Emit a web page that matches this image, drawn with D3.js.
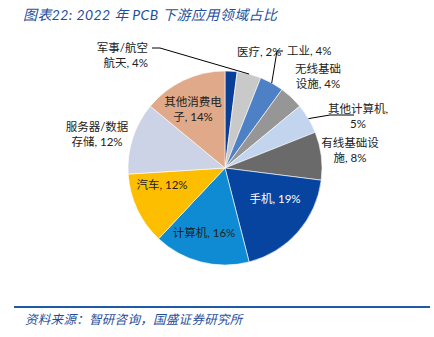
<!DOCTYPE html>
<html><head><meta charset="utf-8">
<script src="https://cdn.jsdelivr.net/npm/d3@7"></script>
<style>
html,body{margin:0;padding:0;background:#fff;}
svg{display:block;}
</style>
</head><body>
<svg id="c" width="434" height="337"></svg>
<script>
// ---- data ----
const categories = ["医疗","军事/航空航天","工业","无线基础设施","其他计算机","有线基础设施","手机","计算机","汽车","服务器/数据存储","其他消费电子"];
const shares = [2,4,4,4,5,8,19,16,12,12,14];
const labelLines = [
  ["医疗, 2%"],
  ["军事/航空","航天, 4%"],
  ["工业, 4%"],
  ["无线基础","设施, 4%"],
  ["其他计算机,","5%"],
  ["有线基础设","施, 8%"],
  ["手机, 19%"],
  ["计算机, 16%"],
  ["汽车, 12%"],
  ["服务器/数据","存储, 12%"],
  ["其他消费电","子, 14%"]
];
const colors = ["#0a3f98","#c9c9c9","#4e80c6","#969696","#c3d5ee","#6a6a6a","#0744a0","#0f8bd3","#fdbe00","#cdd3e6","#dfa98a"];
const titleText = "图表22:  2022 年 PCB 下游应用领域占比";
const sourceText = "资料来源：智研咨询，国盛证券研究所";

// ---- layout ----
const W = 434, H = 337;
const cx = 225, cy = 168, R = 97;
const svg = d3.select("#c");
const font = "Lato, 'Noto Sans CJK SC', sans-serif";

svg.append("text").attr("x",23).attr("y",20)
  .attr("font-family",font).attr("font-size",14).attr("font-style","italic")
  .attr("letter-spacing",0.4)
  .attr("fill","#1f4f9c").text(titleText);

const pie = d3.pie().sort(null).value(d=>d).startAngle(0).endAngle(2*Math.PI);
const arcs = pie(shares);
const arc = d3.arc().innerRadius(0).outerRadius(R);
const g = svg.append("g").attr("transform",`translate(${cx},${cy})`);
g.selectAll("path").data(arcs).join("path")
  .attr("d",arc).attr("fill",(d,i)=>colors[i])
  .attr("stroke","#fff").attr("stroke-width",0.6);

// label placement (relative to centre) and anchors
const labelPos = [
  {x:-13+25, y:-112, a:"start"},
  {x:-77,y:-116, a:"end", line:true, elbow:-65},
  {x:62, y:-113, a:"start", line:true, elbow:52},
  {x:93, y:-95, a:"middle"},
  {x:133,y:-55, a:"middle", line:true, elbow:105, lineY:-53},
  {x:125,y:-21, a:"middle"},
  {x:50, y:35, a:"middle", fill:"#fff"},
  {x:-21,y:69, a:"middle"},
  {x:-63,y:21, a:"middle"},
  {x:-128,y:-37, a:"middle"},
  {x:-32,y:-62, a:"middle"}
];
const lh = 15;
arcs.forEach((d,i)=>{
  const p = labelPos[i];
  const t = g.append("text").attr("font-family",font).attr("font-size",11.5)
    .attr("fill",p.fill||"#222").attr("text-anchor",p.a);
  labelLines[i].forEach((s,k)=>{
    t.append("tspan").attr("x",p.x).attr("y",p.y+k*lh).text(s);
  });
  if(p.line){
    const mid = (d.startAngle+d.endAngle)/2;
    const ex = R*Math.sin(mid), ey = -R*Math.cos(mid);
    const ly = (p.lineY!==undefined?p.lineY:p.y-4);
    const sx = p.a==="end" ? p.x+4 : p.x-4;
    g.append("path").attr("fill","none").attr("stroke","#000").attr("stroke-width",1)
      .attr("d",`M${sx},${ly}L${p.elbow},${ly}L${ex},${ey}`);
  }
});

svg.append("line").attr("x1",14).attr("x2",430).attr("y1",307).attr("y2",307)
  .attr("stroke","#1f5aa8").attr("stroke-width",1.8);
svg.append("text").attr("x",25).attr("y",324)
  .attr("font-family",font).attr("font-size",12.5).attr("font-style","italic")
  .attr("letter-spacing",0.3)
  .attr("fill","#1f4f9c").text(sourceText);
</script>
</body></html>
